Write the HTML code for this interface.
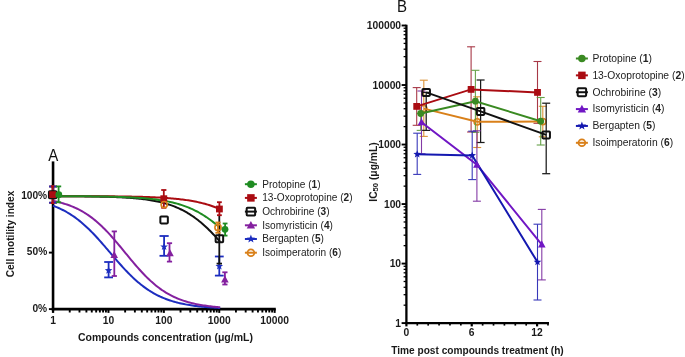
<!DOCTYPE html>
<html><head><meta charset="utf-8"><style>
html,body{margin:0;padding:0;background:#fff;}
svg{display:block;will-change:transform;}
</style></head><body>
<svg width="685" height="357" viewBox="0 0 685 357">
<rect width="685" height="357" fill="#fff"/>
<g stroke="#000" stroke-width="2.6" fill="none">
<line x1="53.05" y1="161.4" x2="53.05" y2="310.40000000000003"/>
<line x1="51.75" y1="309.1" x2="275.8" y2="309.1"/>
</g>
<line x1="48.9" y1="309.10" x2="53.05" y2="309.10" stroke="#000" stroke-width="1.9"/>
<line x1="48.9" y1="252.60" x2="53.05" y2="252.60" stroke="#000" stroke-width="1.9"/>
<line x1="48.9" y1="196.10" x2="53.05" y2="196.10" stroke="#000" stroke-width="1.9"/>
<line x1="53.05" y1="309.1" x2="53.05" y2="312.9" stroke="#000" stroke-width="2.3"/>
<line x1="69.73" y1="309.1" x2="69.73" y2="312.5" stroke="#000" stroke-width="1.9"/>
<line x1="79.48" y1="309.1" x2="79.48" y2="312.5" stroke="#000" stroke-width="1.9"/>
<line x1="86.40" y1="309.1" x2="86.40" y2="312.5" stroke="#000" stroke-width="1.9"/>
<line x1="91.77" y1="309.1" x2="91.77" y2="312.5" stroke="#000" stroke-width="1.9"/>
<line x1="96.16" y1="309.1" x2="96.16" y2="312.5" stroke="#000" stroke-width="1.9"/>
<line x1="99.87" y1="309.1" x2="99.87" y2="312.5" stroke="#000" stroke-width="1.9"/>
<line x1="103.08" y1="309.1" x2="103.08" y2="312.5" stroke="#000" stroke-width="1.9"/>
<line x1="105.92" y1="309.1" x2="105.92" y2="312.5" stroke="#000" stroke-width="1.9"/>
<line x1="108.45" y1="309.1" x2="108.45" y2="312.9" stroke="#000" stroke-width="2.0"/>
<line x1="125.13" y1="309.1" x2="125.13" y2="312.5" stroke="#000" stroke-width="1.9"/>
<line x1="134.88" y1="309.1" x2="134.88" y2="312.5" stroke="#000" stroke-width="1.9"/>
<line x1="141.80" y1="309.1" x2="141.80" y2="312.5" stroke="#000" stroke-width="1.9"/>
<line x1="147.17" y1="309.1" x2="147.17" y2="312.5" stroke="#000" stroke-width="1.9"/>
<line x1="151.56" y1="309.1" x2="151.56" y2="312.5" stroke="#000" stroke-width="1.9"/>
<line x1="155.27" y1="309.1" x2="155.27" y2="312.5" stroke="#000" stroke-width="1.9"/>
<line x1="158.48" y1="309.1" x2="158.48" y2="312.5" stroke="#000" stroke-width="1.9"/>
<line x1="161.32" y1="309.1" x2="161.32" y2="312.5" stroke="#000" stroke-width="1.9"/>
<line x1="163.85" y1="309.1" x2="163.85" y2="312.9" stroke="#000" stroke-width="2.0"/>
<line x1="180.53" y1="309.1" x2="180.53" y2="312.5" stroke="#000" stroke-width="1.9"/>
<line x1="190.28" y1="309.1" x2="190.28" y2="312.5" stroke="#000" stroke-width="1.9"/>
<line x1="197.20" y1="309.1" x2="197.20" y2="312.5" stroke="#000" stroke-width="1.9"/>
<line x1="202.57" y1="309.1" x2="202.57" y2="312.5" stroke="#000" stroke-width="1.9"/>
<line x1="206.96" y1="309.1" x2="206.96" y2="312.5" stroke="#000" stroke-width="1.9"/>
<line x1="210.67" y1="309.1" x2="210.67" y2="312.5" stroke="#000" stroke-width="1.9"/>
<line x1="213.88" y1="309.1" x2="213.88" y2="312.5" stroke="#000" stroke-width="1.9"/>
<line x1="216.72" y1="309.1" x2="216.72" y2="312.5" stroke="#000" stroke-width="1.9"/>
<line x1="219.25" y1="309.1" x2="219.25" y2="312.9" stroke="#000" stroke-width="2.0"/>
<line x1="235.93" y1="309.1" x2="235.93" y2="312.5" stroke="#000" stroke-width="1.9"/>
<line x1="245.68" y1="309.1" x2="245.68" y2="312.5" stroke="#000" stroke-width="1.9"/>
<line x1="252.60" y1="309.1" x2="252.60" y2="312.5" stroke="#000" stroke-width="1.9"/>
<line x1="257.97" y1="309.1" x2="257.97" y2="312.5" stroke="#000" stroke-width="1.9"/>
<line x1="262.36" y1="309.1" x2="262.36" y2="312.5" stroke="#000" stroke-width="1.9"/>
<line x1="266.07" y1="309.1" x2="266.07" y2="312.5" stroke="#000" stroke-width="1.9"/>
<line x1="269.28" y1="309.1" x2="269.28" y2="312.5" stroke="#000" stroke-width="1.9"/>
<line x1="272.12" y1="309.1" x2="272.12" y2="312.5" stroke="#000" stroke-width="1.9"/>
<line x1="274.65" y1="309.1" x2="274.65" y2="312.9" stroke="#000" stroke-width="2"/>
<text x="47.2" y="198.80" text-anchor="end" style="font-family:'Liberation Sans', sans-serif;font-weight:bold;font-size:10px;fill:#1a1a1a;font-size:10.2px">100%</text>
<text x="47.2" y="255.30" text-anchor="end" style="font-family:'Liberation Sans', sans-serif;font-weight:bold;font-size:10px;fill:#1a1a1a;font-size:10.2px">50%</text>
<text x="47.2" y="311.80" text-anchor="end" style="font-family:'Liberation Sans', sans-serif;font-weight:bold;font-size:10px;fill:#1a1a1a;font-size:10.2px">0%</text>
<text x="53.05" y="323.7" text-anchor="middle" style="font-family:'Liberation Sans', sans-serif;font-weight:bold;font-size:10px;fill:#1a1a1a;font-size:10.3px">1</text>
<text x="108.45" y="323.7" text-anchor="middle" style="font-family:'Liberation Sans', sans-serif;font-weight:bold;font-size:10px;fill:#1a1a1a;font-size:10.3px">10</text>
<text x="163.85" y="323.7" text-anchor="middle" style="font-family:'Liberation Sans', sans-serif;font-weight:bold;font-size:10px;fill:#1a1a1a;font-size:10.3px">100</text>
<text x="219.25" y="323.7" text-anchor="middle" style="font-family:'Liberation Sans', sans-serif;font-weight:bold;font-size:10px;fill:#1a1a1a;font-size:10.3px">1000</text>
<text x="274.65" y="323.7" text-anchor="middle" style="font-family:'Liberation Sans', sans-serif;font-weight:bold;font-size:10px;fill:#1a1a1a;font-size:10.3px">10000</text>
<text x="165.4" y="340.5" text-anchor="middle" style="font-family:'Liberation Sans', sans-serif;font-weight:bold;font-size:10px;fill:#1a1a1a;font-size:10.5px">Compounds concentration (μg/mL)</text>
<text transform="translate(13.6,234.0) rotate(-90)" text-anchor="middle" style="font-family:'Liberation Sans', sans-serif;font-weight:bold;font-size:10px;fill:#1a1a1a;font-size:10.15px">Cell motility index</text>
<text transform="translate(53.3,160.7) scale(0.93,1)" text-anchor="middle" style="font-family:'Liberation Sans', sans-serif;font-size:16.2px;fill:#111">A</text>
<polyline points="53.05,205.76 54.44,206.28 55.84,206.83 57.23,207.41 58.62,208.01 60.01,208.64 61.41,209.30 62.80,209.99 64.19,210.71 65.59,211.46 66.98,212.25 68.37,213.07 69.76,213.92 71.16,214.80 72.55,215.73 73.94,216.68 75.34,217.68 76.73,218.70 78.12,219.77 79.51,220.87 80.91,222.01 82.30,223.18 83.69,224.39 85.09,225.64 86.48,226.92 87.87,228.23 89.26,229.58 90.66,230.96 92.05,232.37 93.44,233.81 94.84,235.28 96.23,236.77 97.62,238.29 99.01,239.83 100.41,241.40 101.80,242.98 103.19,244.57 104.59,246.18 105.98,247.80 107.37,249.43 108.76,251.06 110.16,252.69 111.55,254.33 112.94,255.96 114.34,257.59 115.73,259.20 117.12,260.81 118.51,262.41 119.91,263.98 121.30,265.54 122.69,267.08 124.09,268.60 125.48,270.09 126.87,271.56 128.26,272.99 129.66,274.40 131.05,275.78 132.44,277.12 133.84,278.43 135.23,279.71 136.62,280.95 138.01,282.15 139.41,283.32 140.80,284.46 142.19,285.55 143.59,286.62 144.98,287.64 146.37,288.63 147.76,289.58 149.16,290.50 150.55,291.38 151.94,292.23 153.34,293.04 154.73,293.82 156.12,294.57 157.51,295.29 158.91,295.98 160.30,296.63 161.69,297.26 163.09,297.86 164.48,298.43 165.87,298.98 167.26,299.50 168.66,300.00 170.05,300.47 171.44,300.92 172.84,301.35 174.23,301.76 175.62,302.14 177.01,302.51 178.41,302.86 179.80,303.19 181.19,303.51 182.59,303.81 183.98,304.09 185.37,304.36 186.76,304.62 188.16,304.86 189.55,305.09 190.94,305.31 192.34,305.52 193.73,305.71 195.12,305.90 196.51,306.07 197.91,306.24 199.30,306.40 200.69,306.54 202.09,306.69 203.48,306.82 204.87,306.94 206.27,307.06 207.66,307.18 209.05,307.28 210.44,307.38 211.84,307.48 213.23,307.57 214.62,307.65 216.02,307.73 217.41,307.81 218.80,307.88 220.19,307.95" fill="none" stroke="#1c2dbf" stroke-width="2.0"/>
<polyline points="53.05,200.90 54.44,201.18 55.84,201.48 57.23,201.80 58.62,202.14 60.01,202.49 61.41,202.86 62.80,203.26 64.19,203.67 65.59,204.11 66.98,204.57 68.37,205.05 69.76,205.56 71.16,206.09 72.55,206.66 73.94,207.25 75.34,207.87 76.73,208.52 78.12,209.20 79.51,209.91 80.91,210.66 82.30,211.44 83.69,212.25 85.09,213.10 86.48,213.99 87.87,214.92 89.26,215.88 90.66,216.88 92.05,217.92 93.44,219.00 94.84,220.12 96.23,221.28 97.62,222.48 99.01,223.72 100.41,224.99 101.80,226.31 103.19,227.66 104.59,229.04 105.98,230.47 107.37,231.92 108.76,233.41 110.16,234.93 111.55,236.48 112.94,238.06 114.34,239.66 115.73,241.28 117.12,242.92 118.51,244.58 119.91,246.25 121.30,247.94 122.69,249.63 124.09,251.33 125.48,253.03 126.87,254.73 128.26,256.43 129.66,258.11 131.05,259.79 132.44,261.46 133.84,263.11 135.23,264.74 136.62,266.35 138.01,267.94 139.41,269.50 140.80,271.04 142.19,272.54 143.59,274.02 144.98,275.46 146.37,276.86 147.76,278.23 149.16,279.56 150.55,280.86 151.94,282.11 153.34,283.33 154.73,284.51 156.12,285.65 157.51,286.75 158.91,287.81 160.30,288.83 161.69,289.81 163.09,290.75 164.48,291.66 165.87,292.53 167.26,293.36 168.66,294.16 170.05,294.92 171.44,295.65 172.84,296.35 174.23,297.02 175.62,297.65 177.01,298.26 178.41,298.83 179.80,299.38 181.19,299.90 182.59,300.40 183.98,300.87 185.37,301.32 186.76,301.74 188.16,302.15 189.55,302.53 190.94,302.89 192.34,303.24 193.73,303.56 195.12,303.87 196.51,304.16 197.91,304.44 199.30,304.70 200.69,304.95 202.09,305.18 203.48,305.40 204.87,305.61 206.27,305.81 207.66,306.00 209.05,306.17 210.44,306.34 211.84,306.50 213.23,306.65 214.62,306.79 216.02,306.92 217.41,307.05 218.80,307.16 220.19,307.27" fill="none" stroke="#84209f" stroke-width="2.0"/>
<polyline points="53.05,196.17 54.44,196.18 55.84,196.18 57.23,196.19 58.62,196.19 60.01,196.20 61.41,196.20 62.80,196.21 64.19,196.22 65.59,196.22 66.98,196.23 68.37,196.24 69.76,196.25 71.16,196.26 72.55,196.27 73.94,196.28 75.34,196.29 76.73,196.30 78.12,196.31 79.51,196.32 80.91,196.33 82.30,196.35 83.69,196.36 85.09,196.38 86.48,196.40 87.87,196.41 89.26,196.43 90.66,196.45 92.05,196.47 93.44,196.49 94.84,196.52 96.23,196.54 97.62,196.57 99.01,196.60 100.41,196.63 101.80,196.66 103.19,196.69 104.59,196.73 105.98,196.76 107.37,196.80 108.76,196.84 110.16,196.89 111.55,196.93 112.94,196.98 114.34,197.03 115.73,197.09 117.12,197.15 118.51,197.21 119.91,197.28 121.30,197.35 122.69,197.42 124.09,197.50 125.48,197.58 126.87,197.67 128.26,197.76 129.66,197.85 131.05,197.96 132.44,198.07 133.84,198.18 135.23,198.30 136.62,198.43 138.01,198.57 139.41,198.71 140.80,198.86 142.19,199.02 143.59,199.19 144.98,199.37 146.37,199.56 147.76,199.76 149.16,199.97 150.55,200.19 151.94,200.43 153.34,200.67 154.73,200.94 156.12,201.21 157.51,201.50 158.91,201.81 160.30,202.13 161.69,202.47 163.09,202.82 164.48,203.20 165.87,203.60 167.26,204.01 168.66,204.45 170.05,204.91 171.44,205.39 172.84,205.89 174.23,206.42 175.62,206.98 177.01,207.56 178.41,208.17 179.80,208.81 181.19,209.48 182.59,210.18 183.98,210.91 185.37,211.67 186.76,212.46 188.16,213.29 189.55,214.15 190.94,215.04 192.34,215.97 193.73,216.94 195.12,217.94 196.51,218.98 197.91,220.06 199.30,221.17 200.69,222.31 202.09,223.50 203.48,224.72 204.87,225.97 206.27,227.26 207.66,228.58 209.05,229.94 210.44,231.33 211.84,232.75 213.23,234.19 214.62,235.67 216.02,237.17 217.41,238.70 218.80,240.24 220.19,241.81" fill="none" stroke="#111111" stroke-width="2.0"/>
<polyline points="53.05,196.13 54.44,196.13 55.84,196.13 57.23,196.13 58.62,196.13 60.01,196.13 61.41,196.14 62.80,196.14 64.19,196.14 65.59,196.14 66.98,196.15 68.37,196.15 69.76,196.15 71.16,196.15 72.55,196.16 73.94,196.16 75.34,196.16 76.73,196.17 78.12,196.17 79.51,196.17 80.91,196.18 82.30,196.18 83.69,196.18 85.09,196.19 86.48,196.19 87.87,196.20 89.26,196.20 90.66,196.21 92.05,196.22 93.44,196.22 94.84,196.23 96.23,196.24 97.62,196.24 99.01,196.25 100.41,196.26 101.80,196.27 103.19,196.28 104.59,196.29 105.98,196.30 107.37,196.31 108.76,196.32 110.16,196.33 111.55,196.34 112.94,196.36 114.34,196.37 115.73,196.38 117.12,196.40 118.51,196.42 119.91,196.43 121.30,196.45 122.69,196.47 124.09,196.49 125.48,196.51 126.87,196.53 128.26,196.56 129.66,196.58 131.05,196.61 132.44,196.63 133.84,196.66 135.23,196.69 136.62,196.72 138.01,196.76 139.41,196.79 140.80,196.83 142.19,196.87 143.59,196.91 144.98,196.95 146.37,197.00 147.76,197.05 149.16,197.10 150.55,197.15 151.94,197.21 153.34,197.27 154.73,197.33 156.12,197.40 157.51,197.47 158.91,197.54 160.30,197.62 161.69,197.70 163.09,197.78 164.48,197.87 165.87,197.97 167.26,198.07 168.66,198.17 170.05,198.28 171.44,198.40 172.84,198.52 174.23,198.65 175.62,198.78 177.01,198.92 178.41,199.07 179.80,199.23 181.19,199.39 182.59,199.56 183.98,199.74 185.37,199.93 186.76,200.13 188.16,200.34 189.55,200.56 190.94,200.80 192.34,201.04 193.73,201.29 195.12,201.56 196.51,201.84 197.91,202.14 199.30,202.44 200.69,202.77 202.09,203.10 203.48,203.46 204.87,203.83 206.27,204.22 207.66,204.62 209.05,205.05 210.44,205.49 211.84,205.96 213.23,206.44 214.62,206.95 216.02,207.47 217.41,208.02 218.80,208.60 220.19,209.20" fill="none" stroke="#aa0c12" stroke-width="2.0"/>
<polyline points="53.05,196.16 54.44,196.16 55.84,196.17 57.23,196.17 58.62,196.18 60.01,196.18 61.41,196.18 62.80,196.19 64.19,196.19 65.59,196.20 66.98,196.20 68.37,196.21 69.76,196.22 71.16,196.22 72.55,196.23 73.94,196.24 75.34,196.25 76.73,196.25 78.12,196.26 79.51,196.27 80.91,196.28 82.30,196.29 83.69,196.30 85.09,196.31 86.48,196.33 87.87,196.34 89.26,196.35 90.66,196.37 92.05,196.38 93.44,196.40 94.84,196.41 96.23,196.43 97.62,196.45 99.01,196.47 100.41,196.49 101.80,196.51 103.19,196.54 104.59,196.56 105.98,196.59 107.37,196.62 108.76,196.64 110.16,196.68 111.55,196.71 112.94,196.74 114.34,196.78 115.73,196.82 117.12,196.86 118.51,196.90 119.91,196.94 121.30,196.99 122.69,197.04 124.09,197.09 125.48,197.15 126.87,197.21 128.26,197.27 129.66,197.33 131.05,197.40 132.44,197.48 133.84,197.55 135.23,197.63 136.62,197.72 138.01,197.81 139.41,197.91 140.80,198.01 142.19,198.11 143.59,198.22 144.98,198.34 146.37,198.46 147.76,198.60 149.16,198.73 150.55,198.88 151.94,199.03 153.34,199.19 154.73,199.36 156.12,199.54 157.51,199.73 158.91,199.93 160.30,200.14 161.69,200.36 163.09,200.59 164.48,200.83 165.87,201.09 167.26,201.36 168.66,201.64 170.05,201.93 171.44,202.25 172.84,202.57 174.23,202.92 175.62,203.28 177.01,203.66 178.41,204.06 179.80,204.47 181.19,204.91 182.59,205.37 183.98,205.84 185.37,206.34 186.76,206.87 188.16,207.42 189.55,207.99 190.94,208.59 192.34,209.21 193.73,209.86 195.12,210.54 196.51,211.25 197.91,211.98 199.30,212.75 200.69,213.55 202.09,214.37 203.48,215.23 204.87,216.12 206.27,217.04 207.66,218.00 209.05,218.98 210.44,220.00 211.84,221.06 213.23,222.14 214.62,223.26 216.02,224.41 217.41,225.60 218.80,226.81 220.19,228.06" fill="none" stroke="#1f8c22" stroke-width="2.0"/>
<g stroke="#111111" stroke-width="1.6" opacity="1"><line x1="53.00" y1="186.50" x2="53.00" y2="202.70"/><line x1="49.20" y1="186.50" x2="56.80" y2="186.50"/><line x1="49.20" y1="202.70" x2="56.80" y2="202.70"/></g>
<g stroke="#d9801a" stroke-width="1.6" opacity="1"><line x1="53.00" y1="186.50" x2="53.00" y2="202.70"/><line x1="49.20" y1="186.50" x2="56.80" y2="186.50"/><line x1="49.20" y1="202.70" x2="56.80" y2="202.70"/></g>
<g stroke="#84209f" stroke-width="1.6" opacity="1"><line x1="53.00" y1="186.50" x2="53.00" y2="202.70"/><line x1="49.20" y1="186.50" x2="56.80" y2="186.50"/><line x1="49.20" y1="202.70" x2="56.80" y2="202.70"/></g>
<g stroke="#1c2dbf" stroke-width="1.6" opacity="1"><line x1="53.00" y1="186.50" x2="53.00" y2="202.70"/><line x1="49.20" y1="186.50" x2="56.80" y2="186.50"/><line x1="49.20" y1="202.70" x2="56.80" y2="202.70"/></g>
<g stroke="#1f8c22" stroke-width="1.8" opacity="1"><line x1="58.60" y1="186.40" x2="58.60" y2="202.30"/><line x1="56.00" y1="186.40" x2="61.20" y2="186.40"/><line x1="56.00" y1="202.30" x2="61.20" y2="202.30"/></g>
<g stroke="#aa0c12" stroke-width="2.0" opacity="1"><line x1="52.60" y1="186.30" x2="52.60" y2="203.00"/><line x1="51.00" y1="186.30" x2="54.20" y2="186.30"/><line x1="51.00" y1="203.00" x2="54.20" y2="203.00"/></g>
<rect x="48.95" y="191.20" width="7.50" height="7.00" rx="0.8" fill="none" stroke="#111111" stroke-width="2.0"/>
<rect x="49.20" y="191.20" width="6.80" height="6.80" fill="#aa0c12"/>
<circle cx="58.80" cy="194.70" r="3.40" fill="#1f8c22"/>
<g stroke="#1c2dbf" stroke-width="1.8" opacity="1"><line x1="108.60" y1="262.00" x2="108.60" y2="277.40"/><line x1="104.20" y1="262.00" x2="113.00" y2="262.00"/><line x1="104.20" y1="277.40" x2="113.00" y2="277.40"/></g>
<polygon points="108.60,266.50 109.60,269.12 112.40,269.26 110.22,271.03 110.95,273.74 108.60,272.20 106.25,273.74 106.98,271.03 104.80,269.26 107.60,269.12" fill="#1c2dbf"/>
<g stroke="#84209f" stroke-width="1.8" opacity="1"><line x1="114.30" y1="231.40" x2="114.30" y2="276.00"/><line x1="111.70" y1="231.40" x2="116.90" y2="231.40"/><line x1="111.70" y1="276.00" x2="116.90" y2="276.00"/></g>
<path d="M114.20,251.00 L118.00,258.00 L110.40,258.00Z" fill="#84209f"/>
<g stroke="#aa0c12" stroke-width="1.8" opacity="1"><line x1="163.80" y1="190.00" x2="163.80" y2="207.80"/><line x1="161.20" y1="190.00" x2="166.40" y2="190.00"/><line x1="161.20" y1="207.80" x2="166.40" y2="207.80"/></g>
<rect x="160.40" y="195.30" width="6.80" height="6.80" fill="#aa0c12"/>
<circle cx="164.20" cy="204.60" r="3.10" fill="none" stroke="#d9801a" stroke-width="1.60"/>
<rect x="160.35" y="216.40" width="7.50" height="7.00" rx="0.8" fill="none" stroke="#111111" stroke-width="2.0"/>
<g stroke="#1c2dbf" stroke-width="1.8" opacity="1"><line x1="164.10" y1="236.00" x2="164.10" y2="255.80"/><line x1="159.50" y1="236.00" x2="168.70" y2="236.00"/><line x1="159.50" y1="255.80" x2="168.70" y2="255.80"/></g>
<polygon points="164.10,242.80 165.10,245.42 167.90,245.56 165.72,247.33 166.45,250.04 164.10,248.50 161.75,250.04 162.48,247.33 160.30,245.56 163.10,245.42" fill="#1c2dbf"/>
<g stroke="#84209f" stroke-width="1.8" opacity="1"><line x1="169.50" y1="243.20" x2="169.50" y2="261.60"/><line x1="166.90" y1="243.20" x2="172.10" y2="243.20"/><line x1="166.90" y1="261.60" x2="172.10" y2="261.60"/></g>
<path d="M170.00,249.30 L173.80,256.30 L166.20,256.30Z" fill="#84209f"/>
<g stroke="#1c2dbf" stroke-width="1.8" opacity="1"><line x1="219.30" y1="256.50" x2="219.30" y2="275.60"/><line x1="214.90" y1="256.50" x2="223.70" y2="256.50"/><line x1="214.90" y1="275.60" x2="223.70" y2="275.60"/></g>
<polygon points="219.30,262.30 220.30,264.92 223.10,265.06 220.92,266.83 221.65,269.54 219.30,268.00 216.95,269.54 217.68,266.83 215.50,265.06 218.30,264.92" fill="#1c2dbf"/>
<g stroke="#111111" stroke-width="1.8"><line x1="219.3" y1="215.3" x2="219.3" y2="263.6"/><line x1="216.6" y1="263.6" x2="222.0" y2="263.6"/></g>
<g stroke="#84209f" stroke-width="1.8" opacity="1"><line x1="224.90" y1="272.30" x2="224.90" y2="284.50"/><line x1="222.30" y1="272.30" x2="227.50" y2="272.30"/><line x1="222.30" y1="284.50" x2="227.50" y2="284.50"/></g>
<path d="M224.90,275.50 L228.70,282.50 L221.10,282.50Z" fill="#84209f"/>
<g stroke="#aa0c12" stroke-width="1.8" opacity="1"><line x1="219.40" y1="202.20" x2="219.40" y2="215.20"/><line x1="217.00" y1="202.20" x2="221.80" y2="202.20"/><line x1="217.00" y1="215.20" x2="221.80" y2="215.20"/></g>
<rect x="216.00" y="205.60" width="6.80" height="6.80" fill="#aa0c12"/>
<g stroke="#d9801a" stroke-width="1.8" opacity="1"><line x1="218.00" y1="222.50" x2="218.00" y2="232.80"/><line x1="215.40" y1="222.50" x2="220.60" y2="222.50"/><line x1="215.40" y1="232.80" x2="220.60" y2="232.80"/></g>
<circle cx="218.00" cy="227.40" r="3.10" fill="none" stroke="#d9801a" stroke-width="1.60"/>
<g stroke="#1f8c22" stroke-width="1.8" opacity="1"><line x1="225.10" y1="223.50" x2="225.10" y2="235.60"/><line x1="222.70" y1="223.50" x2="227.50" y2="223.50"/><line x1="222.70" y1="235.60" x2="227.50" y2="235.60"/></g>
<circle cx="225.00" cy="229.30" r="3.40" fill="#1f8c22"/>
<rect x="215.65" y="235.30" width="7.50" height="7.00" rx="0.8" fill="none" stroke="#111111" stroke-width="2.0"/>
<line x1="244.90" y1="184.20" x2="256.90" y2="184.20" stroke="#1f8c22" stroke-width="2"/>
<circle cx="250.90" cy="184.20" r="3.74" fill="#1f8c22"/>
<text x="262.2" y="187.50" style="font-family:'Liberation Sans', sans-serif;fill:#222;font-size:10.1px">Protopine (<tspan font-weight="bold">1</tspan>)</text>
<line x1="244.90" y1="197.90" x2="256.90" y2="197.90" stroke="#aa0c12" stroke-width="2"/>
<rect x="247.16" y="194.16" width="7.48" height="7.48" fill="#aa0c12"/>
<text x="262.2" y="201.20" style="font-family:'Liberation Sans', sans-serif;fill:#222;font-size:10.1px">13-Oxoprotopine (<tspan font-weight="bold">2</tspan>)</text>
<line x1="244.90" y1="211.60" x2="256.90" y2="211.60" stroke="#111111" stroke-width="2"/>
<rect x="246.68" y="207.65" width="8.45" height="7.90" rx="0.8" fill="none" stroke="#111111" stroke-width="2.0"/>
<text x="262.2" y="214.90" style="font-family:'Liberation Sans', sans-serif;fill:#222;font-size:10.1px">Ochrobirine (<tspan font-weight="bold">3</tspan>)</text>
<line x1="244.90" y1="225.30" x2="256.90" y2="225.30" stroke="#84209f" stroke-width="2"/>
<path d="M250.90,220.90 L255.08,228.60 L246.72,228.60Z" fill="#84209f"/>
<text x="262.2" y="228.60" style="font-family:'Liberation Sans', sans-serif;fill:#222;font-size:10.1px">Isomyristicin (<tspan font-weight="bold">4</tspan>)</text>
<line x1="244.90" y1="239.00" x2="256.90" y2="239.00" stroke="#1c2dbf" stroke-width="2"/>
<polygon points="250.90,234.60 252.00,237.49 255.08,237.64 252.68,239.58 253.49,242.56 250.90,240.87 248.31,242.56 249.12,239.58 246.72,237.64 249.80,237.49" fill="#1c2dbf"/>
<text x="262.2" y="242.30" style="font-family:'Liberation Sans', sans-serif;fill:#222;font-size:10.1px">Bergapten (<tspan font-weight="bold">5</tspan>)</text>
<line x1="244.90" y1="252.70" x2="256.90" y2="252.70" stroke="#d9801a" stroke-width="2"/>
<circle cx="250.90" cy="252.70" r="3.41" fill="none" stroke="#d9801a" stroke-width="1.76"/>
<text x="262.2" y="256.00" style="font-family:'Liberation Sans', sans-serif;fill:#222;font-size:10.1px">Isoimperatorin (<tspan font-weight="bold">6</tspan>)</text>
<g stroke="#000" stroke-width="2.3" fill="none">
<line x1="406.4" y1="24.8" x2="406.4" y2="324.1"/>
<line x1="405.25" y1="323.1" x2="549" y2="323.1"/>
</g>
<line x1="401.6" y1="323.10" x2="406.4" y2="323.10" stroke="#000" stroke-width="1.9"/>
<line x1="403.6" y1="305.18" x2="406.4" y2="305.18" stroke="#000" stroke-width="1.3"/>
<line x1="403.6" y1="294.70" x2="406.4" y2="294.70" stroke="#000" stroke-width="1.3"/>
<line x1="403.6" y1="287.27" x2="406.4" y2="287.27" stroke="#000" stroke-width="1.3"/>
<line x1="403.6" y1="281.50" x2="406.4" y2="281.50" stroke="#000" stroke-width="1.3"/>
<line x1="403.6" y1="276.78" x2="406.4" y2="276.78" stroke="#000" stroke-width="1.3"/>
<line x1="403.6" y1="272.80" x2="406.4" y2="272.80" stroke="#000" stroke-width="1.3"/>
<line x1="403.6" y1="269.35" x2="406.4" y2="269.35" stroke="#000" stroke-width="1.3"/>
<line x1="403.6" y1="266.30" x2="406.4" y2="266.30" stroke="#000" stroke-width="1.3"/>
<line x1="401.6" y1="263.58" x2="406.4" y2="263.58" stroke="#000" stroke-width="1.9"/>
<line x1="403.6" y1="245.66" x2="406.4" y2="245.66" stroke="#000" stroke-width="1.3"/>
<line x1="403.6" y1="235.18" x2="406.4" y2="235.18" stroke="#000" stroke-width="1.3"/>
<line x1="403.6" y1="227.75" x2="406.4" y2="227.75" stroke="#000" stroke-width="1.3"/>
<line x1="403.6" y1="221.98" x2="406.4" y2="221.98" stroke="#000" stroke-width="1.3"/>
<line x1="403.6" y1="217.26" x2="406.4" y2="217.26" stroke="#000" stroke-width="1.3"/>
<line x1="403.6" y1="213.28" x2="406.4" y2="213.28" stroke="#000" stroke-width="1.3"/>
<line x1="403.6" y1="209.83" x2="406.4" y2="209.83" stroke="#000" stroke-width="1.3"/>
<line x1="403.6" y1="206.78" x2="406.4" y2="206.78" stroke="#000" stroke-width="1.3"/>
<line x1="401.6" y1="204.06" x2="406.4" y2="204.06" stroke="#000" stroke-width="1.9"/>
<line x1="403.6" y1="186.14" x2="406.4" y2="186.14" stroke="#000" stroke-width="1.3"/>
<line x1="403.6" y1="175.66" x2="406.4" y2="175.66" stroke="#000" stroke-width="1.3"/>
<line x1="403.6" y1="168.23" x2="406.4" y2="168.23" stroke="#000" stroke-width="1.3"/>
<line x1="403.6" y1="162.46" x2="406.4" y2="162.46" stroke="#000" stroke-width="1.3"/>
<line x1="403.6" y1="157.74" x2="406.4" y2="157.74" stroke="#000" stroke-width="1.3"/>
<line x1="403.6" y1="153.76" x2="406.4" y2="153.76" stroke="#000" stroke-width="1.3"/>
<line x1="403.6" y1="150.31" x2="406.4" y2="150.31" stroke="#000" stroke-width="1.3"/>
<line x1="403.6" y1="147.26" x2="406.4" y2="147.26" stroke="#000" stroke-width="1.3"/>
<line x1="401.6" y1="144.54" x2="406.4" y2="144.54" stroke="#000" stroke-width="1.9"/>
<line x1="403.6" y1="126.62" x2="406.4" y2="126.62" stroke="#000" stroke-width="1.3"/>
<line x1="403.6" y1="116.14" x2="406.4" y2="116.14" stroke="#000" stroke-width="1.3"/>
<line x1="403.6" y1="108.71" x2="406.4" y2="108.71" stroke="#000" stroke-width="1.3"/>
<line x1="403.6" y1="102.94" x2="406.4" y2="102.94" stroke="#000" stroke-width="1.3"/>
<line x1="403.6" y1="98.22" x2="406.4" y2="98.22" stroke="#000" stroke-width="1.3"/>
<line x1="403.6" y1="94.24" x2="406.4" y2="94.24" stroke="#000" stroke-width="1.3"/>
<line x1="403.6" y1="90.79" x2="406.4" y2="90.79" stroke="#000" stroke-width="1.3"/>
<line x1="403.6" y1="87.74" x2="406.4" y2="87.74" stroke="#000" stroke-width="1.3"/>
<line x1="401.6" y1="85.02" x2="406.4" y2="85.02" stroke="#000" stroke-width="1.9"/>
<line x1="403.6" y1="67.10" x2="406.4" y2="67.10" stroke="#000" stroke-width="1.3"/>
<line x1="403.6" y1="56.62" x2="406.4" y2="56.62" stroke="#000" stroke-width="1.3"/>
<line x1="403.6" y1="49.19" x2="406.4" y2="49.19" stroke="#000" stroke-width="1.3"/>
<line x1="403.6" y1="43.42" x2="406.4" y2="43.42" stroke="#000" stroke-width="1.3"/>
<line x1="403.6" y1="38.70" x2="406.4" y2="38.70" stroke="#000" stroke-width="1.3"/>
<line x1="403.6" y1="34.72" x2="406.4" y2="34.72" stroke="#000" stroke-width="1.3"/>
<line x1="403.6" y1="31.27" x2="406.4" y2="31.27" stroke="#000" stroke-width="1.3"/>
<line x1="403.6" y1="28.22" x2="406.4" y2="28.22" stroke="#000" stroke-width="1.3"/>
<line x1="401.6" y1="25.50" x2="406.4" y2="25.50" stroke="#000" stroke-width="1.9"/>
<line x1="406.40" y1="323.1" x2="406.40" y2="326.40" stroke="#000" stroke-width="2.2"/>
<line x1="417.29" y1="323.1" x2="417.29" y2="325.60" stroke="#000" stroke-width="1.7"/>
<line x1="428.18" y1="323.1" x2="428.18" y2="325.60" stroke="#000" stroke-width="1.7"/>
<line x1="439.07" y1="323.1" x2="439.07" y2="325.60" stroke="#000" stroke-width="1.7"/>
<line x1="449.96" y1="323.1" x2="449.96" y2="325.60" stroke="#000" stroke-width="1.7"/>
<line x1="460.85" y1="323.1" x2="460.85" y2="325.60" stroke="#000" stroke-width="1.7"/>
<line x1="471.74" y1="323.1" x2="471.74" y2="326.40" stroke="#000" stroke-width="2.2"/>
<line x1="482.63" y1="323.1" x2="482.63" y2="325.60" stroke="#000" stroke-width="1.7"/>
<line x1="493.52" y1="323.1" x2="493.52" y2="325.60" stroke="#000" stroke-width="1.7"/>
<line x1="504.41" y1="323.1" x2="504.41" y2="325.60" stroke="#000" stroke-width="1.7"/>
<line x1="515.30" y1="323.1" x2="515.30" y2="325.60" stroke="#000" stroke-width="1.7"/>
<line x1="526.19" y1="323.1" x2="526.19" y2="325.60" stroke="#000" stroke-width="1.7"/>
<line x1="537.08" y1="323.1" x2="537.08" y2="326.40" stroke="#000" stroke-width="2.2"/>
<line x1="547.97" y1="323.1" x2="547.97" y2="325.60" stroke="#000" stroke-width="1.7"/>
<text x="401.1" y="326.70" text-anchor="end" style="font-family:'Liberation Sans', sans-serif;font-weight:bold;font-size:10px;fill:#1a1a1a;font-size:10.3px">1</text>
<text x="401.1" y="267.18" text-anchor="end" style="font-family:'Liberation Sans', sans-serif;font-weight:bold;font-size:10px;fill:#1a1a1a;font-size:10.3px">10</text>
<text x="401.1" y="207.66" text-anchor="end" style="font-family:'Liberation Sans', sans-serif;font-weight:bold;font-size:10px;fill:#1a1a1a;font-size:10.3px">100</text>
<text x="401.1" y="148.14" text-anchor="end" style="font-family:'Liberation Sans', sans-serif;font-weight:bold;font-size:10px;fill:#1a1a1a;font-size:10.3px">1000</text>
<text x="401.1" y="88.62" text-anchor="end" style="font-family:'Liberation Sans', sans-serif;font-weight:bold;font-size:10px;fill:#1a1a1a;font-size:10.3px">10000</text>
<text x="401.1" y="29.10" text-anchor="end" style="font-family:'Liberation Sans', sans-serif;font-weight:bold;font-size:10px;fill:#1a1a1a;font-size:10.3px">100000</text>
<text x="406.40" y="336.2" text-anchor="middle" style="font-family:'Liberation Sans', sans-serif;font-weight:bold;font-size:10px;fill:#1a1a1a;font-size:10.3px">0</text>
<text x="471.74" y="336.2" text-anchor="middle" style="font-family:'Liberation Sans', sans-serif;font-weight:bold;font-size:10px;fill:#1a1a1a;font-size:10.3px">6</text>
<text x="537.08" y="336.2" text-anchor="middle" style="font-family:'Liberation Sans', sans-serif;font-weight:bold;font-size:10px;fill:#1a1a1a;font-size:10.3px">12</text>
<text x="477.5" y="353.8" text-anchor="middle" style="font-family:'Liberation Sans', sans-serif;font-weight:bold;font-size:10px;fill:#1a1a1a;font-size:10.15px">Time post compounds treatment (h)</text>
<text transform="translate(376.9,172) rotate(-90)" text-anchor="middle" style="font-family:'Liberation Sans', sans-serif;font-weight:bold;font-size:10px;fill:#1a1a1a;font-size:10.3px">IC<tspan font-size="7.6px" dy="1.3">50</tspan><tspan dy="-1.3"> (μg/mL)</tspan></text>
<text transform="translate(402.0,12.2) scale(0.93,1)" text-anchor="middle" style="font-family:'Liberation Sans', sans-serif;font-size:16.2px;fill:#111">B</text>
<circle cx="423.80" cy="108.60" r="3.10" fill="none" stroke="#d9801a" stroke-width="1.60"/>
<circle cx="477.20" cy="121.80" r="3.10" fill="none" stroke="#d9801a" stroke-width="1.60"/>
<circle cx="542.80" cy="121.60" r="3.10" fill="none" stroke="#d9801a" stroke-width="1.60"/>
<g stroke="#d88a26" stroke-width="1.1" opacity="0.92"><line x1="423.80" y1="80.20" x2="423.80" y2="136.40"/><line x1="419.80" y1="80.20" x2="427.80" y2="80.20"/><line x1="419.80" y1="136.40" x2="427.80" y2="136.40"/></g>
<g stroke="#d88a26" stroke-width="1.1" opacity="0.92"><line x1="477.20" y1="96.80" x2="477.20" y2="147.50"/><line x1="473.20" y1="96.80" x2="481.20" y2="96.80"/><line x1="473.20" y1="147.50" x2="481.20" y2="147.50"/></g>
<g stroke="#d88a26" stroke-width="1.1" opacity="0.92"><line x1="542.80" y1="106.30" x2="542.80" y2="136.80"/><line x1="538.80" y1="106.30" x2="546.80" y2="106.30"/><line x1="538.80" y1="136.80" x2="546.80" y2="136.80"/></g>
<g stroke="#a02838" stroke-width="1.1" opacity="0.92"><line x1="416.70" y1="87.60" x2="416.70" y2="125.30"/><line x1="412.70" y1="87.60" x2="420.70" y2="87.60"/><line x1="412.70" y1="125.30" x2="420.70" y2="125.30"/></g>
<g stroke="#a02838" stroke-width="1.1" opacity="0.92"><line x1="471.10" y1="46.80" x2="471.10" y2="132.00"/><line x1="467.10" y1="46.80" x2="475.10" y2="46.80"/><line x1="467.10" y1="132.00" x2="475.10" y2="132.00"/></g>
<g stroke="#a02838" stroke-width="1.1" opacity="0.92"><line x1="537.50" y1="61.50" x2="537.50" y2="123.30"/><line x1="533.50" y1="61.50" x2="541.50" y2="61.50"/><line x1="533.50" y1="123.30" x2="541.50" y2="123.30"/></g>
<g stroke="#5a9a3a" stroke-width="1.1" opacity="0.92"><line x1="420.70" y1="113.50" x2="420.70" y2="130.40"/><line x1="416.70" y1="113.50" x2="424.70" y2="113.50"/><line x1="416.70" y1="130.40" x2="424.70" y2="130.40"/></g>
<g stroke="#5a9a3a" stroke-width="1.1" opacity="0.92"><line x1="475.40" y1="70.30" x2="475.40" y2="132.30"/><line x1="471.40" y1="70.30" x2="479.40" y2="70.30"/><line x1="471.40" y1="132.30" x2="479.40" y2="132.30"/></g>
<g stroke="#5a9a3a" stroke-width="1.1" opacity="0.92"><line x1="540.70" y1="97.50" x2="540.70" y2="145.00"/><line x1="536.70" y1="97.50" x2="544.70" y2="97.50"/><line x1="536.70" y1="145.00" x2="544.70" y2="145.00"/></g>
<g stroke="#1a1a1a" stroke-width="1.25" opacity="1.0"><line x1="426.20" y1="92.40" x2="426.20" y2="130.40"/><line x1="422.20" y1="92.40" x2="430.20" y2="92.40"/><line x1="422.20" y1="130.40" x2="430.20" y2="130.40"/></g>
<g stroke="#1a1a1a" stroke-width="1.25" opacity="1.0"><line x1="480.60" y1="80.00" x2="480.60" y2="142.50"/><line x1="476.60" y1="80.00" x2="484.60" y2="80.00"/><line x1="476.60" y1="142.50" x2="484.60" y2="142.50"/></g>
<g stroke="#1a1a1a" stroke-width="1.25" opacity="1.0"><line x1="546.20" y1="103.20" x2="546.20" y2="173.70"/><line x1="542.20" y1="103.20" x2="550.20" y2="103.20"/><line x1="542.20" y1="173.70" x2="550.20" y2="173.70"/></g>
<g stroke="#7a2a9e" stroke-width="1.1" opacity="0.92"><line x1="421.50" y1="91.00" x2="421.50" y2="153.80"/><line x1="417.50" y1="91.00" x2="425.50" y2="91.00"/><line x1="417.50" y1="153.80" x2="425.50" y2="153.80"/></g>
<g stroke="#7a2a9e" stroke-width="1.1" opacity="0.92"><line x1="476.90" y1="130.80" x2="476.90" y2="201.20"/><line x1="472.90" y1="130.80" x2="480.90" y2="130.80"/><line x1="472.90" y1="201.20" x2="480.90" y2="201.20"/></g>
<g stroke="#7a2a9e" stroke-width="1.1" opacity="0.92"><line x1="541.80" y1="209.40" x2="541.80" y2="279.90"/><line x1="537.80" y1="209.40" x2="545.80" y2="209.40"/><line x1="537.80" y1="279.90" x2="545.80" y2="279.90"/></g>
<g stroke="#2828b4" stroke-width="1.1" opacity="0.92"><line x1="417.20" y1="133.20" x2="417.20" y2="174.40"/><line x1="413.20" y1="133.20" x2="421.20" y2="133.20"/><line x1="413.20" y1="174.40" x2="421.20" y2="174.40"/></g>
<g stroke="#2828b4" stroke-width="1.1" opacity="0.92"><line x1="472.20" y1="131.20" x2="472.20" y2="179.60"/><line x1="468.20" y1="131.20" x2="476.20" y2="131.20"/><line x1="468.20" y1="179.60" x2="476.20" y2="179.60"/></g>
<g stroke="#2828b4" stroke-width="1.1" opacity="0.92"><line x1="537.50" y1="224.20" x2="537.50" y2="300.00"/><line x1="533.50" y1="224.20" x2="541.50" y2="224.20"/><line x1="533.50" y1="300.00" x2="541.50" y2="300.00"/></g>
<polyline points="423.80,108.60 477.20,121.80 542.80,121.60" fill="none" stroke="#d9801a" stroke-width="2"/>
<polyline points="416.70,106.40 471.10,89.40 537.50,92.40" fill="none" stroke="#aa0c12" stroke-width="2"/>
<polyline points="420.70,113.50 475.40,101.20 540.70,121.20" fill="none" stroke="#3a8a22" stroke-width="2"/>
<polyline points="426.20,92.40 480.60,111.40 546.20,134.90" fill="none" stroke="#111111" stroke-width="2"/>
<polyline points="421.50,122.20 476.90,164.70 541.80,244.60" fill="none" stroke="#7016c4" stroke-width="2"/>
<polyline points="417.20,154.20 472.20,155.40 537.50,262.10" fill="none" stroke="#1418b0" stroke-width="2"/>
<rect x="413.30" y="103.00" width="6.80" height="6.80" fill="#aa0c12"/>
<rect x="467.70" y="86.00" width="6.80" height="6.80" fill="#aa0c12"/>
<rect x="534.10" y="89.00" width="6.80" height="6.80" fill="#aa0c12"/>
<circle cx="420.70" cy="113.50" r="3.40" fill="#3a8a22"/>
<circle cx="475.40" cy="101.20" r="3.40" fill="#3a8a22"/>
<circle cx="540.70" cy="121.20" r="3.40" fill="#3a8a22"/>
<rect x="422.45" y="88.90" width="7.50" height="7.00" rx="0.8" fill="none" stroke="#111111" stroke-width="2.0"/>
<rect x="476.85" y="107.90" width="7.50" height="7.00" rx="0.8" fill="none" stroke="#111111" stroke-width="2.0"/>
<rect x="542.45" y="131.40" width="7.50" height="7.00" rx="0.8" fill="none" stroke="#111111" stroke-width="2.0"/>
<path d="M421.50,118.20 L425.30,125.20 L417.70,125.20Z" fill="#7016c4"/>
<path d="M476.90,160.70 L480.70,167.70 L473.10,167.70Z" fill="#7016c4"/>
<path d="M541.80,240.60 L545.60,247.60 L538.00,247.60Z" fill="#7016c4"/>
<polygon points="417.20,150.20 418.20,152.82 421.00,152.96 418.82,154.73 419.55,157.44 417.20,155.90 414.85,157.44 415.58,154.73 413.40,152.96 416.20,152.82" fill="#1418b0"/>
<polygon points="472.20,151.40 473.20,154.02 476.00,154.16 473.82,155.93 474.55,158.64 472.20,157.10 469.85,158.64 470.58,155.93 468.40,154.16 471.20,154.02" fill="#1418b0"/>
<polygon points="537.50,258.10 538.50,260.72 541.30,260.86 539.12,262.63 539.85,265.34 537.50,263.80 535.15,265.34 535.88,262.63 533.70,260.86 536.50,260.72" fill="#1418b0"/>
<line x1="575.90" y1="58.50" x2="587.90" y2="58.50" stroke="#3a8a22" stroke-width="2"/>
<circle cx="581.90" cy="58.50" r="3.74" fill="#3a8a22"/>
<text x="592.4" y="61.80" style="font-family:'Liberation Sans', sans-serif;fill:#222;font-size:10.3px">Protopine (<tspan font-weight="bold">1</tspan>)</text>
<line x1="575.90" y1="75.36" x2="587.90" y2="75.36" stroke="#aa0c12" stroke-width="2"/>
<rect x="578.16" y="71.62" width="7.48" height="7.48" fill="#aa0c12"/>
<text x="592.4" y="78.66" style="font-family:'Liberation Sans', sans-serif;fill:#222;font-size:10.3px">13-Oxoprotopine (<tspan font-weight="bold">2</tspan>)</text>
<line x1="575.90" y1="92.22" x2="587.90" y2="92.22" stroke="#111111" stroke-width="2"/>
<rect x="577.67" y="88.27" width="8.45" height="7.90" rx="0.8" fill="none" stroke="#111111" stroke-width="2.0"/>
<text x="592.4" y="95.52" style="font-family:'Liberation Sans', sans-serif;fill:#222;font-size:10.3px">Ochrobirine (<tspan font-weight="bold">3</tspan>)</text>
<line x1="575.90" y1="109.08" x2="587.90" y2="109.08" stroke="#7016c4" stroke-width="2"/>
<path d="M581.90,104.68 L586.08,112.38 L577.72,112.38Z" fill="#7016c4"/>
<text x="592.4" y="112.38" style="font-family:'Liberation Sans', sans-serif;fill:#222;font-size:10.3px">Isomyristicin (<tspan font-weight="bold">4</tspan>)</text>
<line x1="575.90" y1="125.94" x2="587.90" y2="125.94" stroke="#1418b0" stroke-width="2"/>
<polygon points="581.90,121.54 583.00,124.43 586.08,124.58 583.68,126.52 584.49,129.50 581.90,127.81 579.31,129.50 580.12,126.52 577.72,124.58 580.80,124.43" fill="#1418b0"/>
<text x="592.4" y="129.24" style="font-family:'Liberation Sans', sans-serif;fill:#222;font-size:10.3px">Bergapten (<tspan font-weight="bold">5</tspan>)</text>
<line x1="575.90" y1="142.80" x2="587.90" y2="142.80" stroke="#d9801a" stroke-width="2"/>
<circle cx="581.90" cy="142.80" r="3.41" fill="none" stroke="#d9801a" stroke-width="1.76"/>
<text x="592.4" y="146.10" style="font-family:'Liberation Sans', sans-serif;fill:#222;font-size:10.3px">Isoimperatorin (<tspan font-weight="bold">6</tspan>)</text>
</svg>
</body></html>
